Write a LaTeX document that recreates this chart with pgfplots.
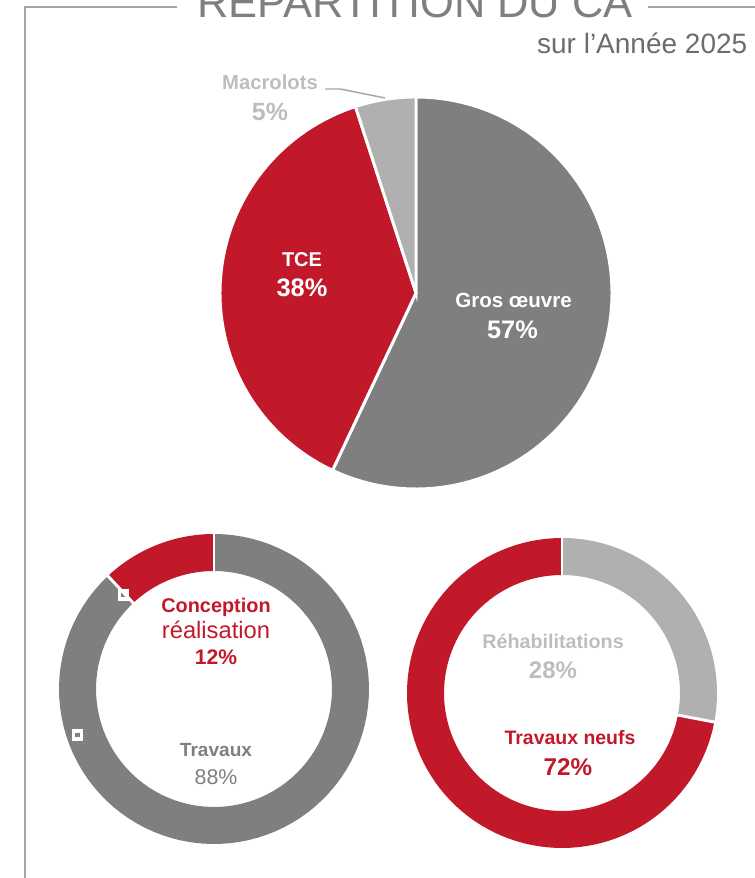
\documentclass[border=0pt]{standalone}
\usepackage{pgfplots}
\pgfplotsset{compat=1.18}
\usepackage{fontspec}
\setmainfont{Liberation Sans}

\definecolor{rouge}{HTML}{C1192A}
\definecolor{grisfonce}{HTML}{7F7F7F}
\definecolor{grisclair}{HTML}{B0B0B0}
\definecolor{gristexte}{HTML}{BDBDBD}
\definecolor{cadre}{HTML}{A6A6A6}

% slice of the pie: cx, cy, r, from %, to %, colour (clockwise from 12 o'clock)
\newcommand{\pieslice}[6]{%
  \addplot[fill=#6, draw=white, line width=2.2pt, samples=90,
    domain={90-3.6*(#5)}:{90-3.6*(#4)}]
    ({#1+#3*cos(x)}, {#2+#3*sin(x)}) -- (axis cs:#1,#2) -- cycle;}
% slice of a donut (ring from r=118 to r=155): cx, cy, from %, to %, colour
\newcommand{\ringslice}[5]{%
  \addplot[draw=#5, line width=27.75pt, samples=90,
    domain={90-3.6*(#4)}:{90-3.6*(#3)}]
    ({#1+136.5*cos(x)}, {#2+136.5*sin(x)});}
% white gap between two donut slices: cx, cy, at %
\newcommand{\ringsep}[3]{%
  \addplot[white, line width=2.2pt, samples=2, domain=112:160]
    ({#1+x*cos(90-3.6*(#3))}, {#2+x*sin(90-3.6*(#3))});}
\newcommand{\fs}[1]{\fontsize{#1}{1.2\dimexpr#1pt\relax}\selectfont}

\begin{document}
\begin{tikzpicture}
\useasboundingbox (0,0) rectangle (565.5pt,658.5pt);
\begin{axis}[at={(0,0)}, anchor=south west,
    x=0.75pt, y=0.75pt, xmin=0, xmax=754, ymin=0, ymax=878,
    hide axis, clip=false]

% frame
\addplot[cadre, line width=1.5pt] coordinates {(177,871) (25,871) (25,-5)};
\addplot[cadre, line width=1.5pt] coordinates {(648,871) (760,871)};

% top pie: Gros oeuvre 57, TCE 38, Macrolots 5
\pieslice{416}{585}{196}{0}{57}{grisfonce}
\pieslice{416}{585}{196}{57}{95}{rouge}
\pieslice{416}{585}{196}{95}{100}{grisclair}
\addplot[cadre, line width=1.1pt] coordinates {(325,789) (340,789) (385,780)};

% bottom left donut: Travaux 88, Conception realisation 12
\ringslice{214}{189}{0}{88}{grisfonce}
\ringslice{214}{189}{88}{100}{rouge}
\ringsep{214}{189}{0}
\ringsep{214}{189}{88}
\addplot[only marks, mark=square, mark size=3pt,
    mark options={draw=white, line width=2.3pt}]
    coordinates {(123.5,283) (77.5,143)};

% bottom right donut: Rehabilitations 28, Travaux neufs 72
\ringslice{562}{185}{0}{28}{grisclair}
\ringslice{562}{185}{28}{100}{rouge}
\ringsep{562}{185}{0}
\ringsep{562}{185}{28}

% texts
\node[anchor=base, text=grisfonce, font=\fs{32.6}] at (axis cs:415,860) {REPARTITION DU CA};
\node[anchor=base east, text=grisfonce!85!black, font=\fs{21}] at (axis cs:752,824.7) {sur l’Année 2025};

\node[anchor=base, text=gristexte, font=\bfseries\fs{15.2}] at (axis cs:270,788.7) {Macrolots};
\node[anchor=base, text=gristexte, font=\bfseries\fs{18.7}] at (axis cs:270,757.4) {5\%};
\node[anchor=base, text=white, font=\bfseries\fs{15}] at (axis cs:302,611) {TCE};
\node[anchor=base, text=white, font=\bfseries\fs{19}] at (axis cs:302,581) {38\%};
\node[anchor=base, text=white, font=\bfseries\fs{15.4}] at (axis cs:513.5,570.6) {Gros œuvre};
\node[anchor=base, text=white, font=\bfseries\fs{19}] at (axis cs:512.5,539) {57\%};

\node[anchor=base, text=rouge, font=\bfseries\fs{14.9}] at (axis cs:216,265) {Conception};
\node[anchor=base, text=rouge, font=\fs{17.8}] at (axis cs:216,239.5) {réalisation};
\node[anchor=base, text=rouge, font=\bfseries\fs{15.8}] at (axis cs:216,213.5) {12\%};
\node[anchor=base, text=grisfonce, font=\bfseries\fs{14.3}] at (axis cs:216,121.2) {Travaux};
\node[anchor=base, text=grisfonce, font=\fs{16}] at (axis cs:216,93.5) {88\%};

\node[anchor=base, text=gristexte, font=\bfseries\fs{14.8}] at (axis cs:553,229.3) {Réhabilitations};
\node[anchor=base, text=gristexte, font=\bfseries\fs{18}] at (axis cs:553,199.4) {28\%};
\node[anchor=base, text=rouge, font=\bfseries\fs{14.6}] at (axis cs:570,133) {Travaux neufs};
\node[anchor=base, text=rouge, font=\bfseries\fs{18.2}] at (axis cs:568,102.6) {72\%};
\end{axis}
\end{tikzpicture}
\end{document}
